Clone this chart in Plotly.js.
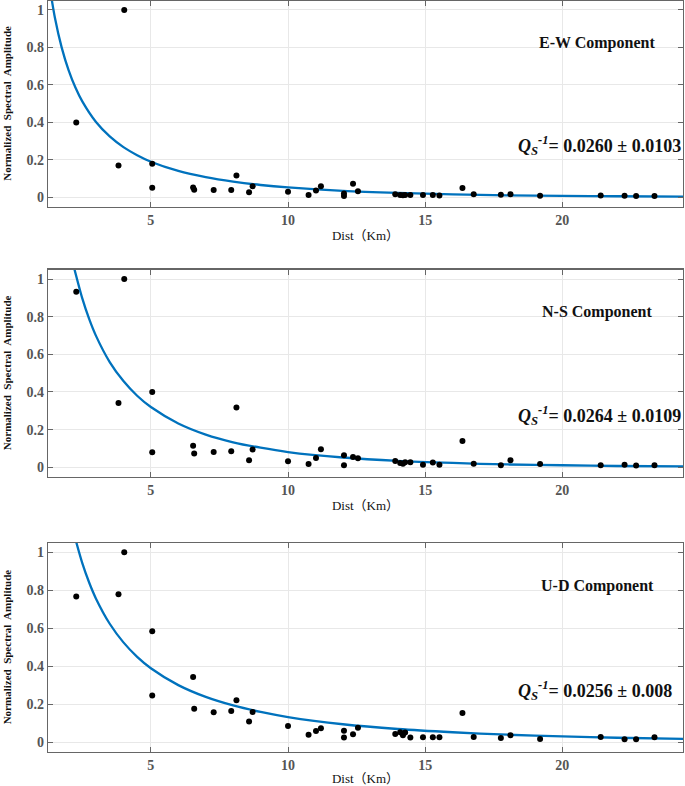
<!DOCTYPE html>
<html>
<head>
<meta charset="utf-8">
<script src="https://cdn.plot.ly/plotly-3.0.1.min.js"></script>
<style>
  html, body { margin: 0; padding: 0; background: #fff; }
  #chart { width: 685px; height: 786px; }
</style>
</head>
<body>
<div id="chart"></div>
<script>
// station distances (km), same for all three components
var dist = [2.28, 4.03, 3.82, 5.05, 5.05, 6.54, 6.58, 7.29, 7.93, 8.12, 8.58, 8.71,
    10.0, 10.75, 11.02, 11.2, 12.04, 12.04, 12.37, 12.55, 13.91, 14.09, 14.19, 14.27,
    14.46, 14.92, 15.28, 15.52, 16.36, 16.77, 17.76, 18.11, 19.19, 21.4, 22.27, 22.69, 23.36];

var ampEW = [0.40, 1.00, 0.17, 0.18, 0.051, 0.053, 0.041, 0.039, 0.039, 0.117, 0.027, 0.059,
    0.030, 0.012, 0.037, 0.059, 0.021, 0.007, 0.073, 0.032, 0.016, 0.012, 0.011, 0.012,
    0.012, 0.012, 0.012, 0.010, 0.050, 0.016, 0.014, 0.017, 0.009, 0.010, 0.009, 0.007, 0.007];

var ampNS = [0.933, 1.00, 0.342, 0.40, 0.080, 0.115, 0.073, 0.081, 0.085, 0.317, 0.037, 0.094,
    0.032, 0.018, 0.050, 0.096, 0.064, 0.011, 0.055, 0.048, 0.034, 0.023, 0.019, 0.027,
    0.027, 0.014, 0.025, 0.014, 0.140, 0.019, 0.011, 0.037, 0.018, 0.011, 0.014, 0.009, 0.011];

var ampUD = [0.767, 1.00, 0.779, 0.584, 0.246, 0.344, 0.177, 0.158, 0.165, 0.221, 0.110, 0.160,
    0.086, 0.040, 0.060, 0.074, 0.061, 0.025, 0.042, 0.077, 0.044, 0.053, 0.037, 0.051,
    0.025, 0.026, 0.026, 0.026, 0.154, 0.028, 0.023, 0.037, 0.018, 0.028, 0.016, 0.016, 0.026];

// fitted curves
var fitXEW = [1.3, 1.5, 1.75, 2.0, 2.25, 2.5, 3.0, 3.5, 4.0, 4.5, 5.0, 6.0, 7.0, 8.0, 9.0,
    10, 12, 14, 16, 18, 20, 22, 24.4];
var fitYEW = [1.135, 0.960, 0.799, 0.679, 0.586, 0.512, 0.402, 0.325, 0.268, 0.225, 0.190, 0.141,
    0.108, 0.084, 0.066, 0.053, 0.035, 0.024, 0.016, 0.011, 0.008, 0.006, 0.004];

var fitXNS = [2.2, 2.5, 2.75, 3.0, 3.5, 4.0, 4.5, 5.0, 6.0, 7.0, 8.0, 9.0,
    10, 12, 14, 16, 18, 20, 22, 24.4];
var fitYNS = [1.06, 0.897, 0.788, 0.698, 0.559, 0.458, 0.380, 0.320, 0.233, 0.174, 0.133, 0.104,
    0.081, 0.052, 0.034, 0.023, 0.015, 0.011, 0.007, 0.005];

var fitXUD = [2.2, 2.5, 2.75, 3.0, 3.5, 4.0, 4.5, 5.0, 6.0, 7.0, 8.0, 9.0,
    10, 12, 14, 16, 18, 20, 22, 24.4];
var fitYUD = [1.096, 0.943, 0.841, 0.756, 0.624, 0.526, 0.450, 0.390, 0.301, 0.239, 0.194, 0.160,
    0.133, 0.095, 0.070, 0.053, 0.040, 0.031, 0.024, 0.018];

var components = ['E-W Component', 'N-S Component', 'U-D Component'];
var qValues = ['0.0260 ± 0.0103', '0.0264 ± 0.0109', '0.0256 ± 0.008'];

var serif = 'Liberation Serif, Times New Roman, serif';
var amps = [ampEW, ampNS, ampUD];
var fitX = [fitXEW, fitXNS, fitXUD];
var fitY = [fitYEW, fitYNS, fitYUD];
var domains = [[0.737, 0.9992], [0.3935, 0.657], [0.0435, 0.3094]];

var data = [];
var layout = {
    width: 685,
    height: 786,
    margin: {l: 48, r: 2, t: 0, b: 0},
    paper_bgcolor: '#fff',
    plot_bgcolor: '#fff',
    showlegend: false,
    annotations: []
};

for (var i = 0; i < 3; i++) {
    var n = i === 0 ? '' : String(i + 1);
    data.push({
        x: fitX[i], y: fitY[i],
        xaxis: 'x' + n, yaxis: 'y' + n,
        type: 'scatter', mode: 'lines',
        line: {color: '#0072BD', width: 2.3, shape: 'spline', smoothing: 0.8},
        hoverinfo: 'skip'
    });
    data.push({
        x: dist, y: amps[i],
        xaxis: 'x' + n, yaxis: 'y' + n,
        type: 'scatter', mode: 'markers',
        marker: {color: '#000', size: 6}
    });

    layout['xaxis' + n] = {
        domain: [0, 1],
        anchor: 'y' + n,
        range: [1.25, 24.4],
        tickvals: [5, 10, 15, 20],
        ticks: 'inside', ticklen: 5, tickcolor: '#666',
        showline: true, linecolor: '#666', linewidth: 1.2, mirror: 'ticks',
        showgrid: true, gridcolor: '#e8e8e8', zeroline: false,
        tickfont: {family: serif, size: 14, color: '#555', weight: 'bold'},
        title: {text: 'Dist（Km）', standoff: 4,
            font: {family: serif + ', Noto Sans CJK SC', size: 13, color: '#111'}}
    };
    layout['yaxis' + n] = {
        domain: domains[i],
        anchor: 'x' + n,
        range: [-0.05, 1.05],
        tickvals: [0, 0.2, 0.4, 0.6, 0.8, 1],
        ticktext: ['0', '0.2', '0.4', '0.6', '0.8', '1'],
        ticks: 'inside', ticklen: 5, tickcolor: '#666',
        showline: true, linecolor: '#666', linewidth: 1.2, mirror: 'ticks',
        showgrid: true, gridcolor: '#e8e8e8', zeroline: false,
        tickfont: {family: serif, size: 14, color: '#555', weight: 'bold'}
    };

    // y axis title placed by hand, close to the left edge
    layout.annotations.push({
        xref: 'paper', yref: 'y' + n,
        x: -0.0645, y: 0.5,
        text: 'Normalized  Spectral  Amplitude',
        textangle: -90,
        showarrow: false, xanchor: 'center', yanchor: 'middle',
        font: {family: serif, size: 11, color: '#111', weight: 'bold'}
    });
    layout.annotations.push({
        xref: 'x' + n, yref: 'y' + n,
        x: 21.28, y: 0.825,
        text: components[i],
        showarrow: false, xanchor: 'center', yanchor: 'middle',
        font: {family: serif, size: 16, color: '#111', weight: 'bold'}
    });
    layout.annotations.push({
        xref: 'x' + n, yref: 'y' + n,
        x: 18.3, y: 0.275,
        text: '<i>Q</i><sub><i>S</i></sub><sup><i>-1</i></sup>= ' + qValues[i],
        showarrow: false, xanchor: 'left', yanchor: 'middle',
        font: {family: serif, size: 18, color: '#111', weight: 'bold'}
    });
}

Plotly.newPlot('chart', data, layout, {displayModeBar: false, staticPlot: true});
</script>
</body>
</html>
